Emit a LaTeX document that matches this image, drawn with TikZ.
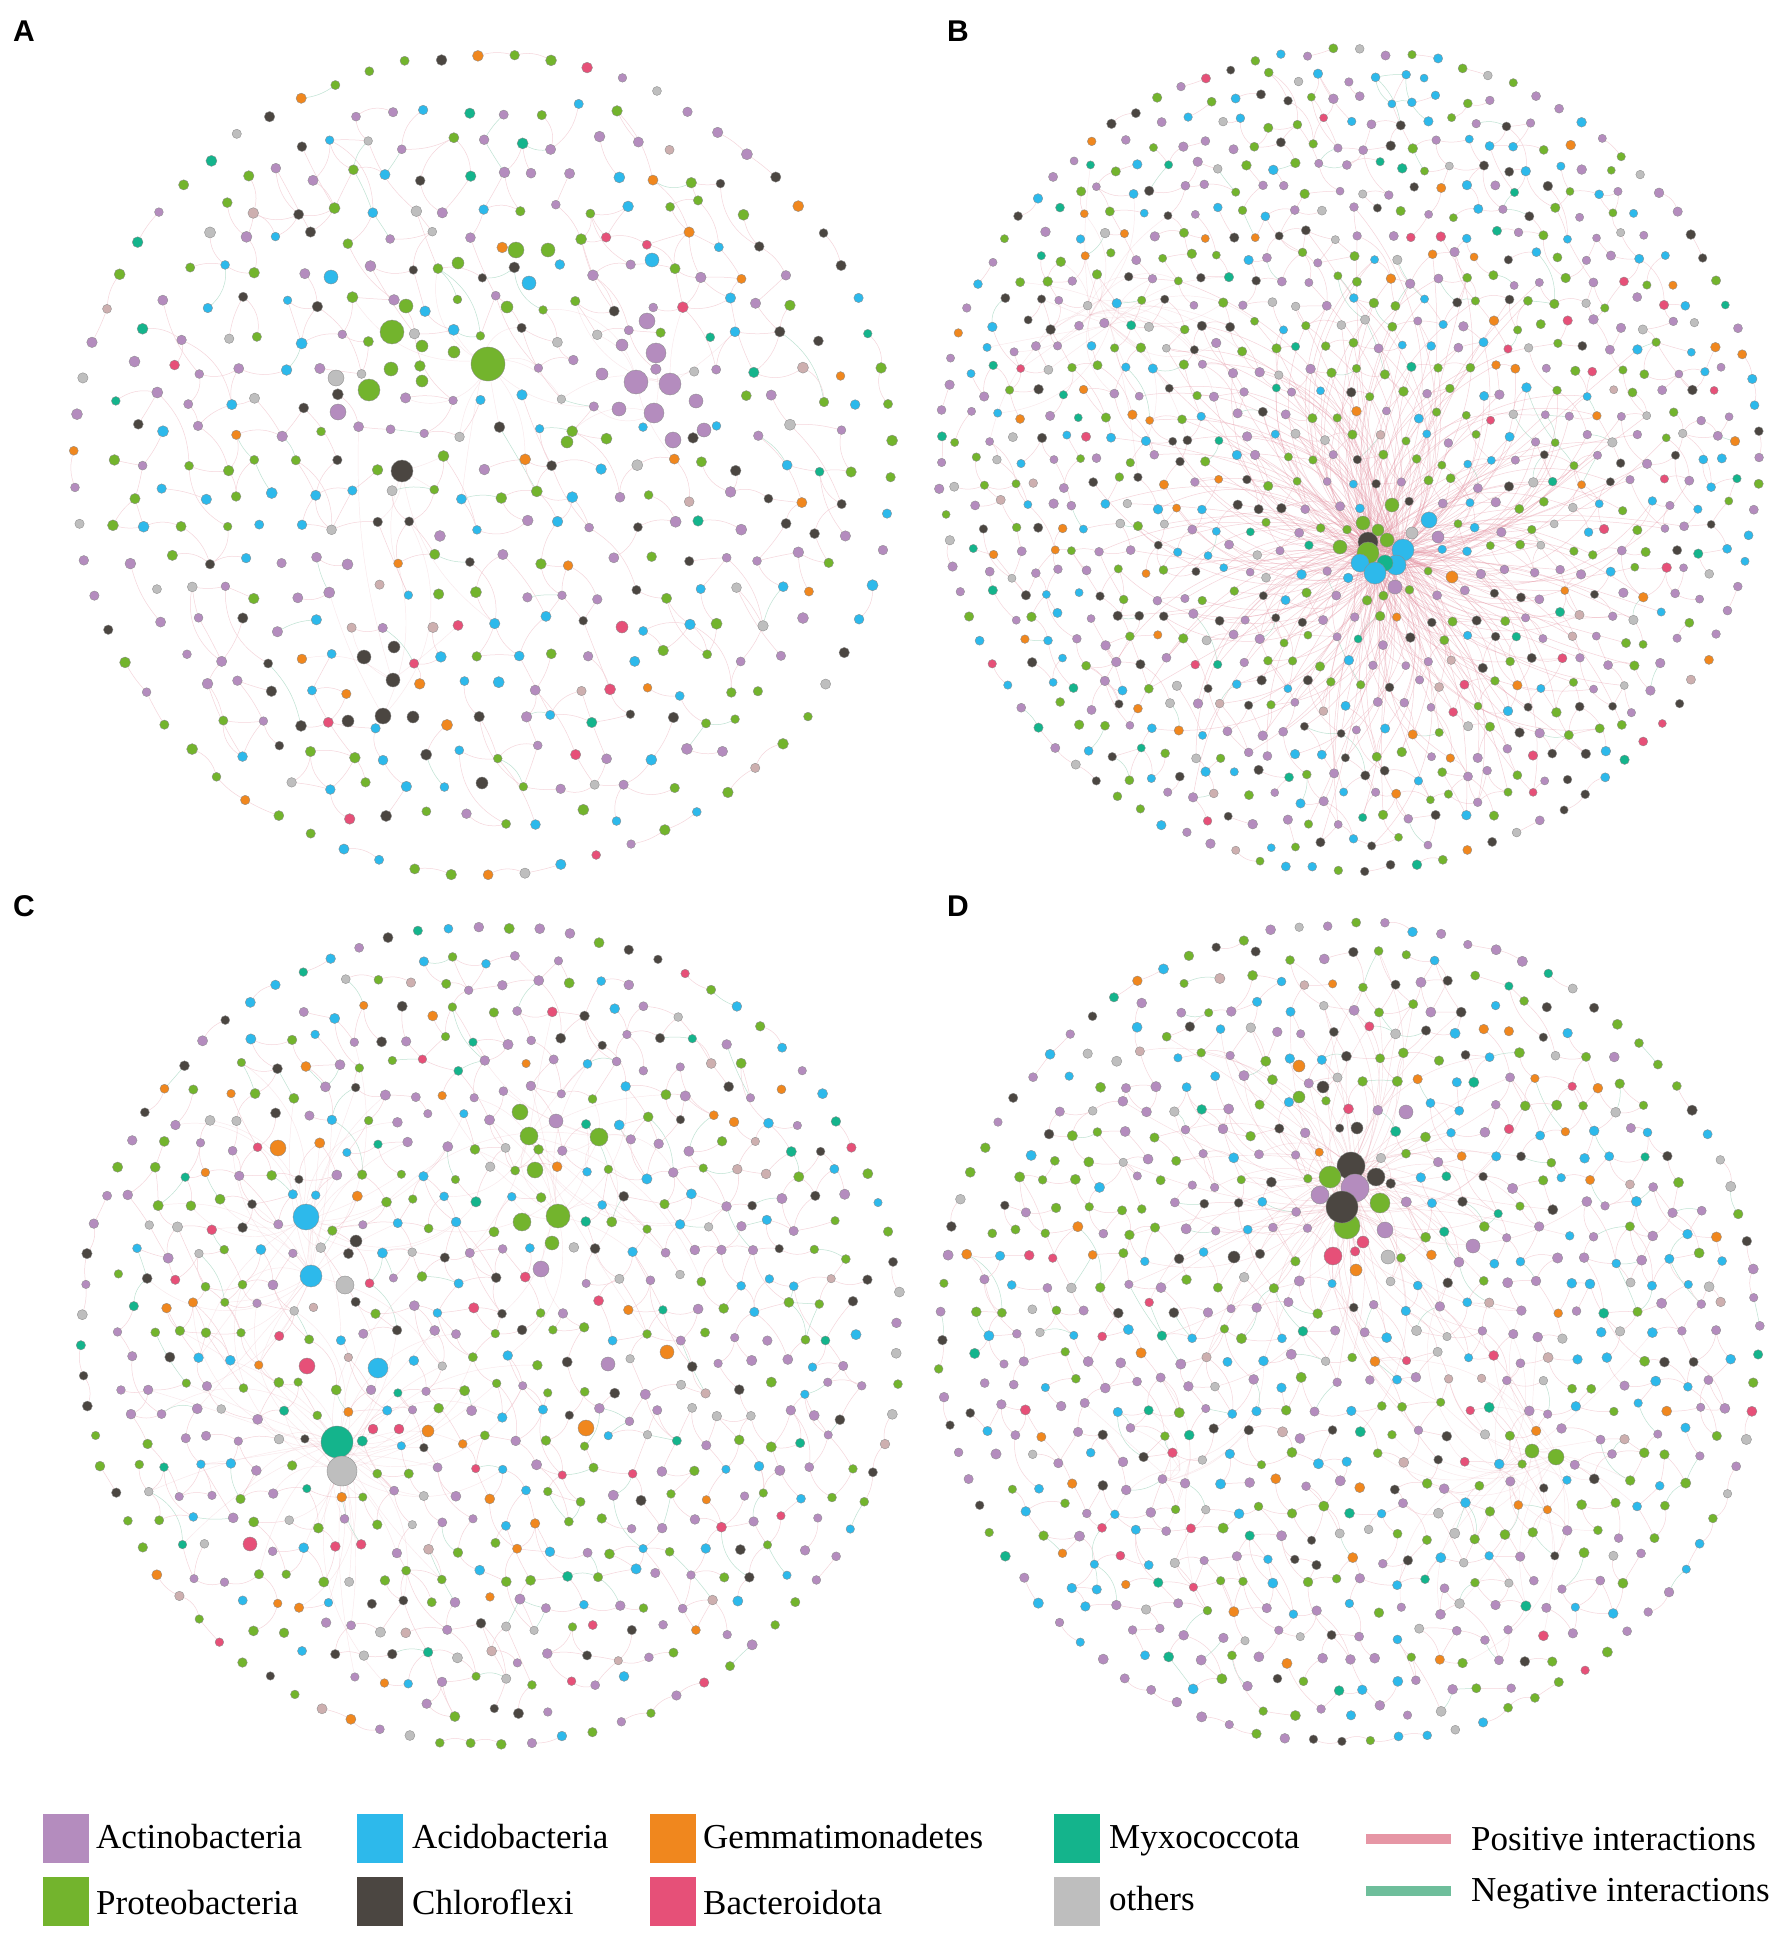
\documentclass[tikz,border=0pt]{standalone}
\usepackage{fontspec}
\setmainfont{Liberation Serif}
\newfontfamily\lblfont{Liberation Sans}
\definecolor{cAct}{RGB}{180,140,190}
\definecolor{cAcd}{RGB}{45,185,235}
\definecolor{cGem}{RGB}{240,135,30}
\definecolor{cMyx}{RGB}{20,180,140}
\definecolor{cPro}{RGB}{115,180,45}
\definecolor{cChl}{RGB}{75,70,65}
\definecolor{cBac}{RGB}{230,80,120}
\definecolor{cOth}{RGB}{190,190,190}
\definecolor{cOtb}{RGB}{205,175,175}
\definecolor{cPos}{RGB}{230,150,165}
\definecolor{cNeg}{RGB}{110,190,155}
\tikzset{
  nwdot/.style={draw=black!45, line width=0.35},
  nwedge/.style={draw=cPos!40!white, line width=0.5},
  nwedgeneg/.style={draw=cNeg!45!white, line width=0.5},
  hubB/.style={draw=cPos, line width=0.5, opacity=0.42},
  hubD/.style={draw=cPos, line width=0.45, opacity=0.32},
  hubL/.style={draw=cPos, line width=0.45, opacity=0.22},
  panellabel/.style={font=\lblfont\bfseries\fontsize{30}{36}\selectfont, inner sep=0pt},
  legsq/.style={anchor=north west, minimum width=46, minimum height=49, inner sep=0pt, draw=none},
  legtxt/.style={font=\fontsize{35}{40}\selectfont, anchor=base west, inner sep=0pt},
  legline/.style={line width=10},
}
\makeatletter
\newcommand\nwPickColor{%
  \pgfmathsetmacro\nwu{rnd}%
  \ifdim\nwu pt<0.27pt \def\nwcol{cAct}\else
  \ifdim\nwu pt<0.50pt \def\nwcol{cPro}\else
  \ifdim\nwu pt<0.67pt \def\nwcol{cAcd}\else
  \ifdim\nwu pt<0.79pt \def\nwcol{cChl}\else
  \ifdim\nwu pt<0.86pt \def\nwcol{cOth}\else
  \ifdim\nwu pt<0.91pt \def\nwcol{cGem}\else
  \ifdim\nwu pt<0.95pt \def\nwcol{cMyx}\else
  \ifdim\nwu pt<0.98pt \def\nwcol{cBac}\else
  \def\nwcol{cOtb}\fi\fi\fi\fi\fi\fi\fi\fi}
\newcommand\nwSetPanel[6]{%
  \def\nwL{#1}\def\nwcx{#2}\def\nwcy{#3}\def\nwR{#4}\def\nws{#5}\def\nwN{#6}%
  \pgfmathtruncatemacro\nwNN{2*#6}}
\newcommand\nwPlace[1]{%
 \xdef\nwNR{#1}%
 \foreach \jj in {0,...,\nwNN}{%
  \foreach \ii in {0,...,\nwNN}{%
   \pgfmathsetmacro\gx{(\ii-\nwN+0.5*mod(\jj,2))*\nws}%
   \pgfmathsetmacro\gy{(\jj-\nwN)*\nws*0.866}%
   \pgfmathtruncatemacro\gin{((\gx/100)*(\gx/100)+(\gy/100)*(\gy/100))<((\nwR-0.9*\nws)/100)*((\nwR-0.9*\nws)/100)}%
   \ifnum\gin=1
     \pgfmathsetmacro\px{\nwcx+\gx+0.22*\nws*rand}%
     \pgfmathsetmacro\py{\nwcy+\gy+0.22*\nws*rand}%
     \pgfmathtruncatemacro\pxi{\px}%
     \pgfmathtruncatemacro\pyi{\py}%
     \gdef\nwok{1}%
     \foreach \nm/\ex/\ey/\er/\ec in \nwBigList {%
       \ifnum\numexpr(\pxi-\ex)*(\pxi-\ex)+(\pyi-\ey)*(\pyi-\ey)\relax<\numexpr(\er+6)*(\er+6)\relax
         \gdef\nwok{0}\fi}%
     \ifnum\nwok=1 \coordinate (\nwL-\ii-\jj) at (\px,\py);\fi
   \fi}}%
 \foreach \k in {1,...,#1}{%
   \pgfmathsetmacro\ang{\k*(360/#1)+7}%
   \pgfmathsetmacro\rrad{\nwR-6+3*rand}%
   \coordinate (\nwL-r-\k) at ({\nwcx+\rrad*cos(\ang)},{\nwcy+\rrad*sin(\ang)});}%
}
\newcommand\nwLink[2]{%
  \pgfmathsetmacro\pc{rnd}%
  \pgfmathtruncatemacro\bb{rand*35}%
  \ifdim\pc pt<0.10pt \draw[nwedgeneg] (#1) to[bend left=\bb] (#2);%
  \else \draw[nwedge] (#1) to[bend left=\bb] (#2);\fi}
\newcommand\nwEdges[1]{%
 \foreach \jj in {0,...,\nwNN}{%
  \foreach \ii in {0,...,\nwNN}{%
   \ifcsname pgf@sh@ns@\nwL-\ii-\jj\endcsname
     \pgfmathtruncatemacro\ni{\ii+1}%
     \pgfmathtruncatemacro\nj{\jj+1}%
     \pgfmathtruncatemacro\nk{\ii-1+2*mod(\jj,2)}%
     \pgfmathtruncatemacro\nl{\jj+2}%
     \pgfmathsetmacro\pa{rnd}\pgfmathsetmacro\pb{rnd}%
     \pgfmathsetmacro\pd{rnd}\pgfmathsetmacro\pf{2*rnd}%
     \ifdim\pa pt<#1pt
       \ifcsname pgf@sh@ns@\nwL-\ni-\jj\endcsname \nwLink{\nwL-\ii-\jj}{\nwL-\ni-\jj}\fi
     \fi
     \ifdim\pb pt<#1pt
       \ifcsname pgf@sh@ns@\nwL-\ii-\nj\endcsname \nwLink{\nwL-\ii-\jj}{\nwL-\ii-\nj}\fi
     \fi
     \ifdim\pd pt<#1pt
       \ifcsname pgf@sh@ns@\nwL-\nk-\nj\endcsname \nwLink{\nwL-\ii-\jj}{\nwL-\nk-\nj}\fi
     \fi
     \ifdim\pf pt<#1pt
       \ifcsname pgf@sh@ns@\nwL-\ni-\nl\endcsname \nwLink{\nwL-\ii-\jj}{\nwL-\ni-\nl}\fi
     \fi
   \fi}}%
 \foreach \k in {1,...,\nwNR}{%
   \pgfmathtruncatemacro\kn{mod(\k,\nwNR)+1}%
   \pgfmathsetmacro\pa{rnd}%
   \ifdim\pa pt<#1pt \nwLink{\nwL-r-\k}{\nwL-r-\kn}\fi}%
}
\newcommand\nwHub[6]{%
 \foreach \jj in {0,...,\nwNN}{%
  \foreach \ii in {0,...,\nwNN}{%
   \ifcsname pgf@sh@ns@\nwL-\ii-\jj\endcsname
     \pgfmathsetmacro\gx{(\nwcx+(\ii-\nwN+0.5*mod(\jj,2))*\nws-#2)/100}%
     \pgfmathsetmacro\gy{(\nwcy+(\jj-\nwN)*\nws*0.866-#3)/100}%
     \pgfmathsetmacro\pp{#5*(1-100*sqrt(\gx*\gx+\gy*\gy)/#4)}%
     \pgfmathsetmacro\pa{rnd}%
     \ifdim\pa pt<\pp pt
       \pgfmathtruncatemacro\bb{rand*50}%
       \pgfmathtruncatemacro\hs{mod(\ii+\jj,3)+1}%
       \draw[#6] (#1-\hs) to[bend left=\bb] (\nwL-\ii-\jj);%
     \fi
   \fi}}}
\newcommand\nwDots[2]{%
 \foreach \jj in {0,...,\nwNN}{%
  \foreach \ii in {0,...,\nwNN}{%
   \ifcsname pgf@sh@ns@\nwL-\ii-\jj\endcsname
     \nwPickColor
     \pgfmathsetmacro\rr{#1+(#2-#1)*rnd}%
     \fill[nwdot,fill=\nwcol] (\nwL-\ii-\jj) circle[radius=\rr];%
   \fi}}%
 \foreach \k in {1,...,\nwNR}{%
   \nwPickColor
   \pgfmathsetmacro\rr{#1+(#2-#1)*rnd}%
   \fill[nwdot,fill=\nwcol] (\nwL-r-\k) circle[radius=\rr];}%
}
\newcommand\nwBigCoords{%
  \foreach \nm/\bx/\by/\br/\bc in \nwBigList {\coordinate (\nm) at (\bx,\by);}}
\newcommand\nwBigDots{%
  \foreach \nm/\bx/\by/\br/\bc in \nwBigList {\fill[nwdot,fill=\bc] (\nm) circle[radius=\br];}}
\makeatother

\begin{document}
\begin{tikzpicture}[x=1pt,y=-1pt]
\pgfmathsetseed{4242}
\fill[white] (0,0) rectangle (1775,1933);
\useasboundingbox (0,0) rectangle (1775,1933);

% ================= Panel A =================
\nwSetPanel{A}{483}{464}{415}{37}{14}
\def\nwBigList{aB1/488/364/17/cPro, aB2/392/332/12/cPro, aB3/369/390/11/cPro,
 aB4/336/378/8/cOth, aB5/338/412/8/cAct, aB6/402/471/11/cChl, aB7/636/382/12/cAct,
 aB8/670/384/11/cAct, aB9/654/413/10/cAct, aB10/656/353/10/cAct, aB11/647/321/8/cAct,
 aB12/673/440/8/cAct, aB13/516/250/8/cPro, aB14/383/716/8/cChl,
 aM1/548/250/7/cPro, aM2/406/306/7/cPro, aM3/458/263/6/cPro, aM4/422/346/6/cPro,
 aM5/422/381/6/cPro, aM6/391/369/7/cPro, aM7/507/307/6/cPro, aM8/454/352/6/cPro,
 aM9/331/277/7/cAcd, aM10/529/283/7/cAcd, aM11/652/260/7/cAcd, aM12/619/409/7/cAct,
 aM13/704/430/7/cAct, aM14/696/401/7/cAct, aM15/622/345/6/cAct, aM16/602/374/6/cAct,
 aM17/364/657/7/cChl, aM18/394/647/6/cChl, aM19/393/680/7/cChl, aM20/348/721/6/cChl,
 aM21/413/717/6/cChl, aM22/482/783/6/cChl, aM23/622/627/6/cBac, aM24/567/442/6/cPro}
\nwPlace{70}
\nwBigCoords
\coordinate (Ha1-1) at (488,364); \coordinate (Ha1-2) at (484,360); \coordinate (Ha1-3) at (492,368);
\coordinate (Ha2-1) at (402,471); \coordinate (Ha2-2) at (383,716); \coordinate (Ha2-3) at (392,680);
\coordinate (Ha3-1) at (636,382); \coordinate (Ha3-2) at (670,384); \coordinate (Ha3-3) at (654,413);
\nwEdges{0.33}
\nwHub{Ha1}{488}{364}{170}{0.5}{hubL}
\nwHub{Ha2}{400}{560}{220}{0.35}{hubL}
\nwHub{Ha3}{650}{390}{150}{0.45}{hubL}
\nwDots{4.3}{5.6}
\nwBigDots

% ================= Panel B =================
\nwSetPanel{B}{1349}{460}{415}{26}{19}
\def\nwBigList{bH1/1368/542/10/cChl, bM1/1387/540/7/cPro, bM2/1378/530/6/cPro,
 bH2/1403/550/11/cAcd, bH5/1396/565/10/cAcd, bH6/1385/563/8/cMyx, bH4/1368/553/11/cPro,
 bH7/1360/563/9/cAcd, bH3/1375/573/11/cAcd, bM3/1395/587/7/cAct,
 bM4/1429/520/8/cAcd, bM5/1363/523/7/cPro, bM6/1340/547/7/cPro, bM7/1392/505/7/cPro,
 bM8/1412/533/6/cOth, bM9/1438/537/6/cAct, bM10/1452/577/6/cGem}
\nwPlace{98}
\nwBigCoords
\coordinate (Hb-1) at (1368,545); \coordinate (Hb-2) at (1400,553); \coordinate (Hb-3) at (1376,570);
\coordinate (Hc-1) at (1090,315); \coordinate (Hc-2) at (1110,325); \coordinate (Hc-3) at (1100,300);
\nwEdges{0.28}
\nwHub{Hc}{1100}{315}{190}{0.8}{hubL}
\nwHub{Hb}{1380}{540}{340}{2.2}{hubB}
\nwDots{4.0}{4.9}
\nwBigDots

% ================= Panel C =================
\nwSetPanel{C}{490}{1334}{415}{31}{16}
\def\nwBigList{cB1/306/1217/13/cAcd, cB2/311/1276/11/cAcd, cB3/345/1285/9/cOth,
 cB4/378/1368/10/cAcd, cB5/307/1366/8/cBac, cB6/337/1442/16/cMyx, cB7/342/1471/15/cOth,
 cB8/278/1148/8/cGem, cB9/558/1216/12/cPro, cB10/522/1222/9/cPro, cB11/529/1136/9/cPro,
 cB12/520/1112/8/cPro, cB13/599/1137/9/cPro, cB14/535/1170/8/cPro, cB15/552/1243/7/cPro,
 cB16/541/1269/8/cAct, cB17/586/1428/8/cGem, cB18/608/1364/7/cAct, cB19/667/1352/7/cGem,
 cB20/250/1544/7/cBac, cB21/556/1121/7/cAct, cB22/356/1241/6/cChl, cB23/373/1429/5/cBac,
 cB24/399/1429/5/cBac, cB25/428/1431/6/cGem}
\nwPlace{84}
\nwBigCoords
\coordinate (Hd-1) at (306,1217); \coordinate (Hd-2) at (311,1276); \coordinate (Hd-3) at (300,1222);
\coordinate (He-1) at (337,1442); \coordinate (He-2) at (342,1471); \coordinate (He-3) at (340,1455);
\coordinate (Hf-1) at (558,1216); \coordinate (Hf-2) at (529,1136); \coordinate (Hf-3) at (599,1137);
\nwEdges{0.4}
\nwHub{Hd}{306}{1230}{230}{0.7}{hubL}
\nwHub{He}{338}{1455}{240}{0.8}{hubL}
\nwHub{Hf}{558}{1190}{210}{0.6}{hubL}
\nwDots{4.2}{5.2}
\nwBigDots

% ================= Panel D =================
\nwSetPanel{D}{1349}{1333}{415}{29}{17}
\def\nwBigList{dB1/1351/1166/14/cChl, dB2/1330/1177/11/cPro, dB3/1376/1177/9/cChl,
 dB4/1320/1195/9/cAct, dB5/1355/1188/14/cAct, dB6/1347/1226/13/cPro, dB7/1342/1207/16/cChl,
 dB8/1380/1203/10/cPro, dB9/1333/1256/9/cBac, dB10/1388/1257/7/cOth, dB11/1385/1230/8/cAct,
 dB12/1406/1112/7/cAct, dB13/1473/1246/7/cAct, dB14/1234/1257/6/cChl, dB15/1556/1457/8/cPro,
 dB16/1532/1451/7/cPro, dB17/1299/1066/6/cGem, dB18/1299/1097/6/cPro, dB19/1323/1087/6/cChl,
 dB20/1357/1128/6/cChl, dB21/1363/1242/6/cBac, dB22/1356/1270/6/cGem}
\nwPlace{90}
\nwBigCoords
\coordinate (Hg-1) at (1351,1166); \coordinate (Hg-2) at (1342,1207); \coordinate (Hg-3) at (1355,1188);
\coordinate (Hh-1) at (1556,1457); \coordinate (Hh-2) at (1532,1451); \coordinate (Hh-3) at (1500,1470);
\coordinate (Hi-1) at (1180,1470); \coordinate (Hi-2) at (1170,1480); \coordinate (Hi-3) at (1190,1460);
\nwEdges{0.38}
\nwHub{Hh}{1510}{1460}{210}{0.6}{hubL}
\nwHub{Hi}{1180}{1470}{160}{0.45}{hubL}
\nwHub{Hg}{1350}{1195}{280}{1.3}{hubD}
\nwDots{4.2}{5.2}
\nwBigDots

% ================= Panel labels =================
\node[panellabel] (lA) at (24,31) {A};
\node[panellabel] (lB) at (958,31) {B};
\node[panellabel] (lC) at (24,906) {C};
\node[panellabel] (lD) at (958,906) {D};

% ================= Legend =================
\node[legsq, fill=cAct] (sq1) at (43,1814) {};
\node[legtxt] (t1) at (96,1848) {Actinobacteria};
\node[legsq, fill=cPro] (sq2) at (43,1877) {};
\node[legtxt] (t2) at (96,1914) {Proteobacteria};
\node[legsq, fill=cAcd] (sq3) at (357,1814) {};
\node[legtxt] (t3) at (412,1848) {Acidobacteria};
\node[legsq, fill=cChl] (sq4) at (357,1877) {};
\node[legtxt] (t4) at (412,1914) {Chloroflexi};
\node[legsq, fill=cGem] (sq5) at (650,1814) {};
\node[legtxt] (t5) at (703,1848) {Gemmatimonadetes};
\node[legsq, fill=cBac] (sq6) at (650,1877) {};
\node[legtxt] (t6) at (703,1914) {Bacteroidota};
\node[legsq, fill=cMyx] (sq7) at (1054,1814) {};
\node[legtxt] (t7) at (1109,1848) {Myxococcota};
\node[legsq, fill=cOth] (sq8) at (1054,1877) {};
\node[legtxt] (t8) at (1109,1910) {others};
\coordinate (lp1) at (1366,1839); \coordinate (lp2) at (1451,1839);
\draw[legline, cPos] (lp1) -- (lp2);
\node[legtxt] (t9) at (1471,1850) {Positive interactions};
\coordinate (ln1) at (1366,1891); \coordinate (ln2) at (1451,1891);
\draw[legline, cNeg] (ln1) -- (ln2);
\node[legtxt] (t10) at (1471,1901) {Negative interactions};
\end{tikzpicture}
\end{document}
